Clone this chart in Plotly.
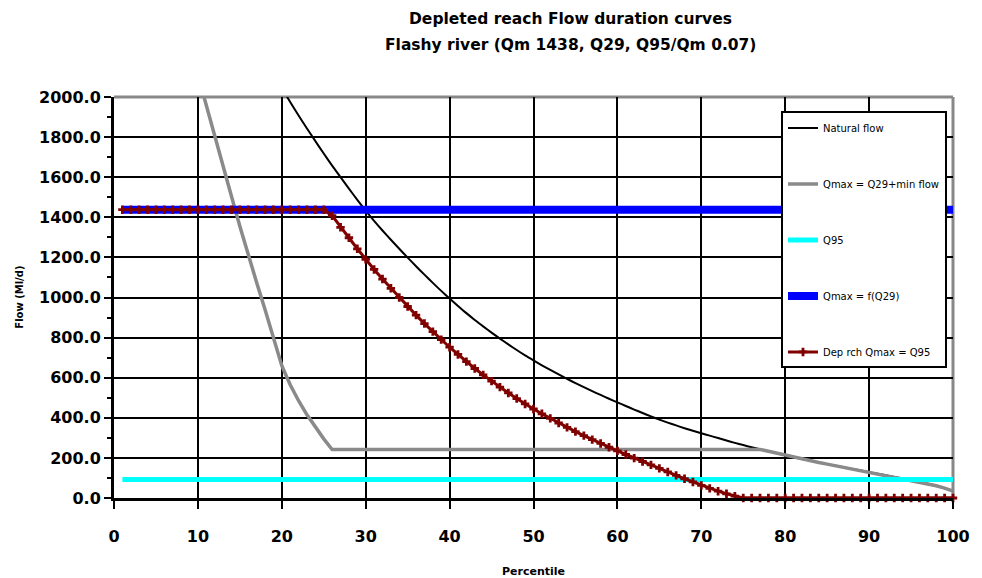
import plotly.graph_objects as go

# ---- data ----
percentile = list(range(1, 101))

nat_x = list(range(20, 101))
natural_flow = [2045, 1975, 1908, 1843, 1780, 1718, 1658, 1600, 1543, 1487,
                1433, 1382, 1334, 1288, 1243, 1199, 1156, 1114, 1073, 1033,
                995, 958, 922, 888, 856, 825, 795, 766, 738, 711,
                686, 662, 639, 616, 594, 573, 553, 533, 514, 495,
                477, 459, 441, 424, 407, 391, 376, 362, 348, 335,
                323, 311, 299, 287, 275, 264, 253, 243, 233, 223,
                213, 204, 195, 186, 177, 169, 161, 153, 145, 137,
                129, 121, 113, 105, 97, 89, 80, 71, 61, 49, 35]

gross_x = list(range(10, 101))
gross_flow = [2110, 1955, 1805, 1660, 1505, 1355, 1210, 1075, 940, 800,
              660, 565, 485, 415, 352, 295, 242, 242, 242, 242,
              242, 242, 242, 242, 242, 242, 242, 242, 242, 242,
              242, 242, 242, 242, 242, 242, 242, 242, 242, 242,
              242, 242, 242, 242, 242, 242, 242, 242, 242, 242,
              242, 242, 242, 242, 242, 242, 242, 242, 242, 242,
              242, 242, 242, 242, 242, 242, 242, 242, 233, 223,
              213, 204, 195, 186, 177, 169, 161, 153, 145, 137,
              129, 121, 113, 105, 97, 89, 80, 71, 61, 49, 35]

q95_flow = [92] * 100
qmax_flow = [1438] * 100

dep_flow = [1438] * 25 + [
    1408, 1350, 1298, 1243, 1190, 1140, 1092, 1046, 1000, 955,
    912, 870, 830, 790, 752, 716, 680, 646, 614, 583,
    553, 524, 496, 469, 444, 420, 397, 374, 352, 331,
    311, 291, 272, 253, 235, 217, 199, 182, 165, 148,
    130, 113, 96, 80, 63, 48, 34, 21, 9, 0] + [0] * 25

names = ["Natural flow", "Qmax = Q29+min flow", "Q95", "Qmax = f(Q29)",
         "Dep rch Qmax = Q95"]
x_ticks = list(range(0, 101, 10))
y_ticks = list(range(0, 2001, 200))

FONT = "DejaVu Sans"

fig = go.Figure()
fig.add_trace(go.Scatter(x=nat_x, y=natural_flow, mode="lines", name=names[0],
                         line=dict(color="#000000", width=2, shape="spline", smoothing=0.6),
                         legendgroup="a"))
fig.add_trace(go.Scatter(x=gross_x, y=gross_flow, mode="lines", name=names[1],
                         line=dict(color="#8a8a8a", width=3.5), legendgroup="b"))
fig.add_trace(go.Scatter(x=percentile, y=q95_flow, mode="lines", name=names[2],
                         line=dict(color="#00ffff", width=5), legendgroup="c"))
fig.add_trace(go.Scatter(x=percentile, y=qmax_flow, mode="lines", name=names[3],
                         line=dict(color="#0000ff", width=8), legendgroup="d"))
fig.add_trace(go.Scatter(x=percentile, y=dep_flow, mode="lines+markers", name=names[4],
                         line=dict(color="#800000", width=3),
                         marker=dict(symbol="cross", size=7, color="#800000"),
                         cliponaxis=False, legendgroup="e"))

# grey plot-area border (top and right)
fig.add_shape(type="line", xref="paper", yref="paper", x0=0, x1=1, y0=1, y1=1,
              line=dict(color="#888888", width=3), layer="below")
fig.add_shape(type="line", xref="paper", yref="paper", x0=1, x1=1, y0=0, y1=1,
              line=dict(color="#888888", width=3), layer="below")

fig.update_layout(
    width=982, height=578,
    margin=dict(l=114, r=19, t=97, b=80),
    paper_bgcolor="white", plot_bgcolor="white",
    font=dict(family=FONT, color="#000000"),
    showlegend=True,
    legend=dict(x=0.795, y=0.964, xanchor="left", yanchor="top",
                bgcolor="white", bordercolor="#000000", borderwidth=2,
                font=dict(size=10, family=FONT, color="#000000"),
                tracegroupgap=37, itemwidth=30),
    xaxis=dict(range=[0, 100], tickvals=x_ticks, ticktext=[str(v) for v in x_ticks],
               showgrid=True, gridcolor="#000000", gridwidth=2,
               showline=True, linecolor="#000000", linewidth=3,
               ticks="outside", ticklen=8, tickwidth=2, tickcolor="#000000",
               tickfont=dict(size=16, family=FONT, weight="bold"),
               ticklabelstandoff=14, zeroline=False),
    yaxis=dict(range=[0, 2000], tickvals=y_ticks, ticktext=[f"{v:.1f}" for v in y_ticks],
               showgrid=True, gridcolor="#000000", gridwidth=2,
               showline=True, linecolor="#000000", linewidth=3,
               ticks="outside", ticklen=7, tickwidth=2, tickcolor="#000000",
               tickfont=dict(size=16, family=FONT, weight="bold"),
               minor=dict(dtick=100, ticks="outside", ticklen=4, tickwidth=2,
                          tickcolor="#000000", showgrid=False),
               zeroline=False),
    annotations=[
        dict(text="Depleted reach Flow duration curves", xref="paper", yref="paper",
             x=0.544, y=1.194, xanchor="center", yanchor="middle", showarrow=False,
             font=dict(size=15.5, family=FONT, weight="bold")),
        dict(text="Flashy river (Qm 1438, Q29, Q95/Qm 0.07)", xref="paper", yref="paper",
             x=0.544, y=1.129, xanchor="center", yanchor="middle", showarrow=False,
             font=dict(size=15.5, family=FONT, weight="bold")),
        dict(text="Percentile", xref="paper", yref="paper",
             x=0.5, y=-0.183, xanchor="center", yanchor="middle", showarrow=False,
             font=dict(size=11, family=FONT, weight="bold")),
        dict(text="Flow (Ml/d)", xref="paper", yref="paper", textangle=-90,
             x=-0.113, y=0.5, xanchor="center", yanchor="middle", showarrow=False,
             font=dict(size=10, family=FONT, weight="bold")),
    ],
)

fig.write_html("out.html")
